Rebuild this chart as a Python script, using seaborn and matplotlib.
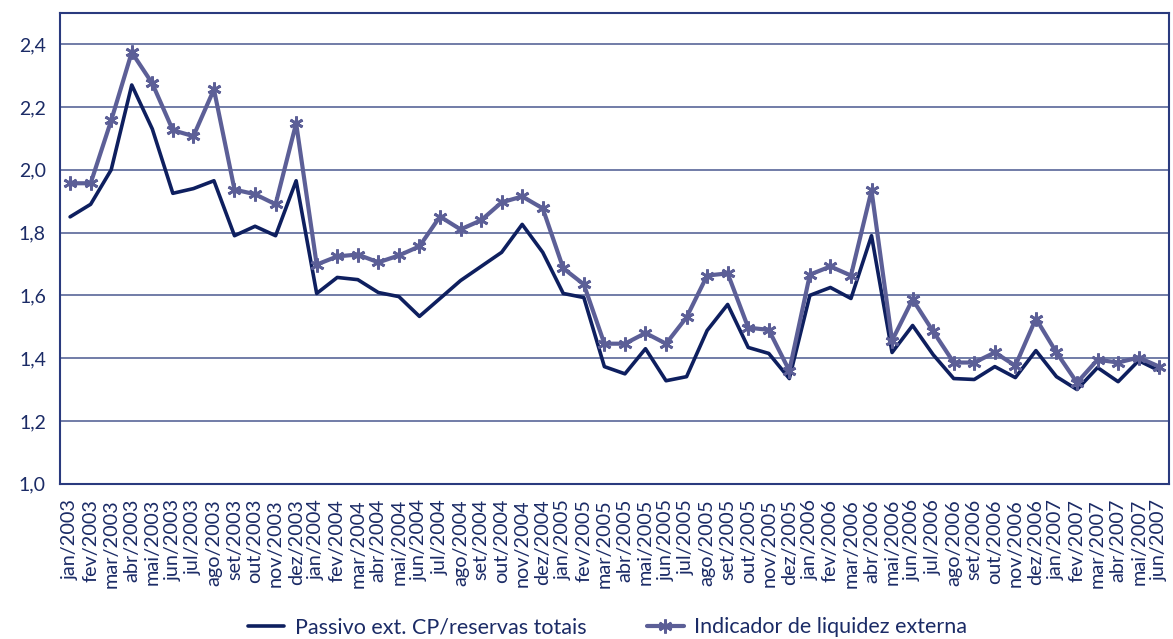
import matplotlib
matplotlib.use("Agg")
import matplotlib.pyplot as plt
import numpy as np
import pandas as pd
import seaborn as sns

months = ['jan', 'fev', 'mar', 'abr', 'mai', 'jun', 'jul', 'ago', 'set', 'out', 'nov', 'dez']
labels = [f'{m}/{y}' for y in range(2003, 2008) for m in months][:54]

passivo = [1.85, 1.89, 2.00, 2.27, 2.13, 1.925, 1.94, 1.965, 1.79, 1.82, 1.79, 1.965,
           1.606, 1.657, 1.65, 1.609, 1.596, 1.533, 1.59, 1.647, 1.692, 1.737, 1.826, 1.737,
           1.606, 1.593, 1.373, 1.35, 1.43, 1.328, 1.341, 1.488, 1.571, 1.434, 1.415, 1.335,
           1.60, 1.625, 1.59, 1.79, 1.418, 1.504, 1.411, 1.335, 1.332, 1.373, 1.338, 1.424,
           1.341, 1.30, 1.37, 1.325, 1.392, 1.36]

indicador = [1.957, 1.957, 2.157, 2.374, 2.275, 2.126, 2.107, 2.256, 1.937, 1.922, 1.89, 2.148,
             1.698, 1.724, 1.730, 1.705, 1.727, 1.756, 1.851, 1.81, 1.839, 1.896, 1.915, 1.877,
             1.686, 1.635, 1.446, 1.446, 1.48, 1.446, 1.53, 1.663, 1.67, 1.497, 1.49, 1.36,
             1.666, 1.692, 1.663, 1.934, 1.456, 1.587, 1.485, 1.386, 1.386, 1.418, 1.376, 1.526,
             1.418, 1.322, 1.395, 1.386, 1.402, 1.373]

navy = '#0e1f5f'
light = '#5c5f97'
textc = '#1b2b66'

df = pd.DataFrame({'pos': np.arange(len(labels)), 'passivo': passivo, 'indicador': indicador})

sns.set_style('white')
plt.rcParams['font.family'] = ['Lato', 'DejaVu Sans']

fig = plt.figure(figsize=(11.73, 6.39), dpi=100)
ax = fig.add_axes([0.051, 0.243, 0.946, 0.737])

sns.lineplot(data=df, x='pos', y='passivo', ax=ax, color=navy, lw=2.6,
             label='Passivo ext. CP/reservas totais')
sns.lineplot(data=df, x='pos', y='indicador', ax=ax, color=light, lw=3.0,
             marker=(6, 2, 0), markersize=10, markeredgewidth=2, markeredgecolor=light,
             label='Indicador de liquidez externa')

ax.set_xlim(-0.5, len(labels) - 0.5)
ax.set_ylim(1.0, 2.5)
ax.set_yticks(np.arange(1.0, 2.41, 0.2))
ax.set_yticklabels([f'{v:.1f}'.replace('.', ',') for v in np.arange(1.0, 2.41, 0.2)],
                   fontsize=14, color=textc)
ax.set_xticks(df['pos'])
ax.set_xticklabels(labels, rotation=90, fontsize=14.3, color=textc)
ax.set_xticks(np.arange(-0.5, len(labels), 1), minor=True)
ax.tick_params(axis='x', which='major', length=0, pad=11)
ax.tick_params(axis='x', which='minor', length=6, width=1, color=navy, direction='out')
ax.tick_params(axis='y', length=6, width=1, color=navy, direction='out', pad=4)
ax.grid(axis='y', color='#4a5890', lw=1.1)
ax.set_axisbelow(True)
for s in ax.spines.values():
    s.set_color('#2a3a7e')
    s.set_linewidth(1.5)
ax.set_xlabel('')
ax.set_ylabel('')

h, l = ax.get_legend_handles_labels()
ax.get_legend().remove()
fig.legend(h, l, loc='center', bbox_to_anchor=(0.518, 0.018), ncol=2, frameon=False,
           fontsize=15.5, handlelength=1.7, handletextpad=0.5, columnspacing=2.8,
           labelcolor=textc)

fig.savefig('out.png', dpi=100)
